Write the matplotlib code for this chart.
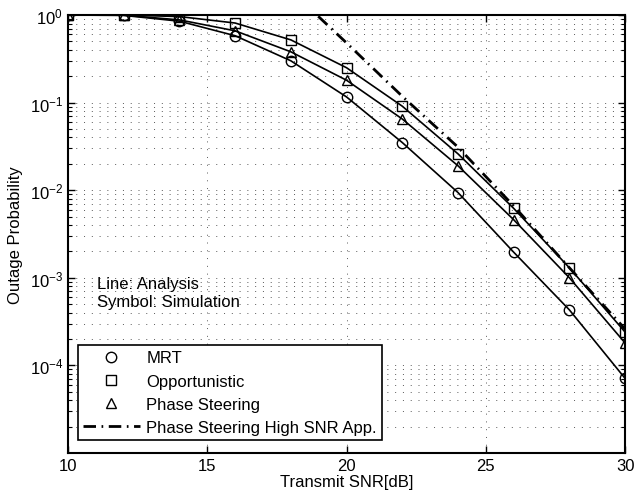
import numpy as np
import matplotlib
matplotlib.use("Agg")
import matplotlib.pyplot as plt
from matplotlib.ticker import LogLocator, NullFormatter, FixedLocator

snr_db = [10, 12, 14, 16, 18, 20, 22, 24, 26, 28, 30]
mrt = [1.0, 0.99, 0.85, 0.58, 0.30, 0.116, 0.035, 0.0094, 0.00196, 0.00043, 7.1e-5]
opportunistic = [1.0, 1.0, 0.96, 0.81, 0.52, 0.25, 0.091, 0.026, 0.0062, 0.0013, 2.4e-4]
phase_steering = [1.0, 0.995, 0.88, 0.66, 0.38, 0.18, 0.065, 0.019, 0.0046, 0.00100, 1.8e-4]

hs_snr_db = [18, 20, 22, 24, 26, 28, 30]
phase_high_snr = [1.9, 0.48, 0.118, 0.031, 0.0066, 0.0013, 2.6e-4]

labels = ["MRT", "Opportunistic", "Phase Steering", "Phase Steering High SNR App."]
x_ticks = [10, 15, 20, 25, 30]
y_ticks = [1e-4, 1e-3, 1e-2, 1e-1, 1e0]

plt.rcParams['font.family'] = ['Liberation Sans', 'DejaVu Sans']
plt.rcParams['mathtext.fontset'] = 'custom'
plt.rcParams['mathtext.rm'] = 'Liberation Sans'
plt.rcParams['mathtext.it'] = 'Liberation Sans'

FS = 12
fig = plt.figure(figsize=(6.34, 5.02), dpi=100)
ax = fig.add_axes([0.1073, 0.0956, 0.8787, 0.8725])

ms = 7.5
for vals, mk, lab in zip([mrt, opportunistic, phase_steering], ['o', 's', '^'], labels[:3]):
    ax.plot(snr_db, vals, color='black', lw=1.2, zorder=3)
    ax.plot(snr_db, vals, linestyle='none', marker=mk, ms=ms, mfc='none',
            mec='black', mew=1.0, label=lab, zorder=4)
ax.plot(hs_snr_db, phase_high_snr, color='black', lw=2.0,
        dashes=(4.5, 2, 0.6, 2), label=labels[3], zorder=3)

ax.set_yscale('log')
ax.set_xlim(10, 30)
ax.set_ylim(1e-5, 1)
ax.xaxis.set_major_locator(FixedLocator(x_ticks))
ax.yaxis.set_major_locator(FixedLocator(y_ticks))
ax.yaxis.set_minor_locator(LogLocator(base=10, subs=np.arange(2, 10)))
ax.yaxis.set_minor_formatter(NullFormatter())
ax.set_yticklabels([r'$10^{-4}$', r'$10^{-3}$', r'$10^{-2}$', r'$10^{-1}$', r'$10^{0}$'])

ax.tick_params(which='both', direction='in', top=True, right=True, labelsize=FS)
ax.tick_params(which='major', length=5, width=1)
ax.tick_params(which='minor', length=3, width=0.8)
for s in ax.spines.values():
    s.set_linewidth(1.5)

gridkw = dict(color='0.35', lw=0.7, linestyle=(0, (1, 7)))
ax.grid(True, which='major', axis='both', **gridkw)
ax.grid(True, which='minor', axis='y', **gridkw)
ax.set_axisbelow(True)

ax.set_xlabel('Transmit SNR[dB]', fontsize=FS, labelpad=1)
ax.set_ylabel('Outage Probability', fontsize=FS, labelpad=5)

ax.text(0.052, 0.386, 'Line: Analysis', transform=ax.transAxes, fontsize=FS, va='center')
ax.text(0.052, 0.345, 'Symbol: Simulation', transform=ax.transAxes, fontsize=FS, va='center')

leg = ax.legend(loc='lower left', bbox_to_anchor=(0.018, 0.03), fontsize=FS,
                frameon=True, fancybox=False, edgecolor='black', framealpha=1,
                borderaxespad=0, handlelength=3.4, handletextpad=0.4,
                labelspacing=0.49, borderpad=0.3)
leg.get_frame().set_linewidth(1.2)

fig.savefig('out.png', dpi=100)
